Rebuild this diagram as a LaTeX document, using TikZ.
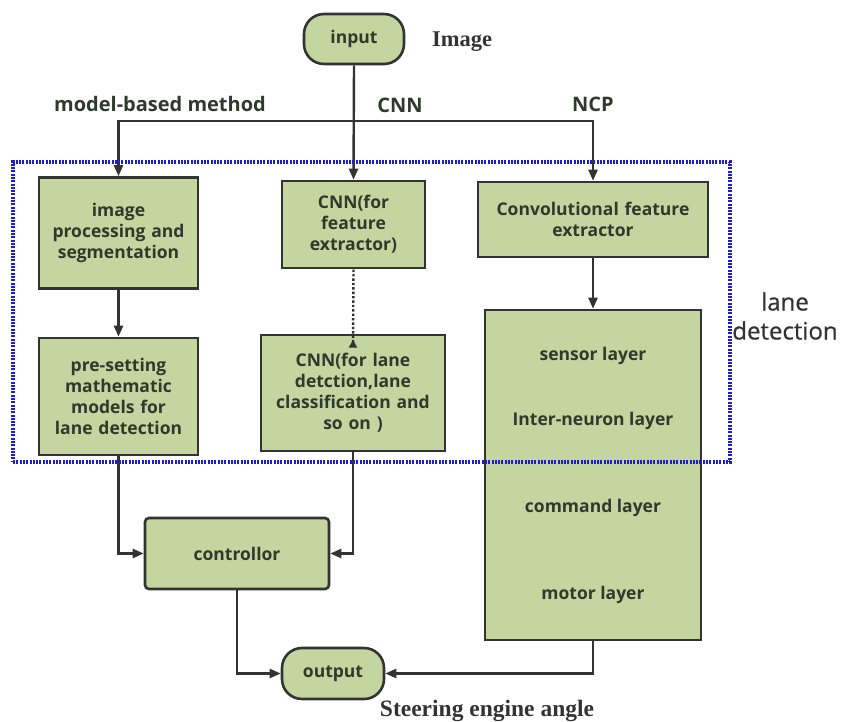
\documentclass[tikz,border=0pt]{standalone}
\usepackage{fontspec}
\setmainfont{Liberation Serif}
\setsansfont{Open Sans}
\newfontfamily\lanefont[FakeBold=0.6]{Open Sans}
\usetikzlibrary{arrows.meta}
\definecolor{boxfill}{HTML}{C4D59F}
\definecolor{edge}{HTML}{333333}
\definecolor{txt}{HTML}{2E3A2C}
\definecolor{dotblue}{HTML}{1C1CD8}
\begin{document}
\begin{tikzpicture}[x=1pt,y=-1pt,
  blk/.style={draw=edge, line width=2.6pt, fill=boxfill, text=txt, align=center,
    font=\sffamily\bfseries\fontsize{17.5}{21}\selectfont, inner sep=2pt},
  pill/.style={blk, rounded corners=20pt},
  lbl/.style={text=txt, font=\sffamily\bfseries\fontsize{20}{24}\selectfont},
  lay/.style={text=txt, font=\sffamily\bfseries\fontsize{17.5}{21}\selectfont},
  con/.style={draw=edge, line width=2.4pt, -{Triangle[length=11pt,width=9pt]}},
  ser/.style={text=edge, font=\rmfamily\bfseries\fontsize{22.5}{26}\selectfont}]
\useasboundingbox (0,0) rectangle (843,722);
% nodes
\node[pill, minimum width=100pt, minimum height=50pt] (input) at (354,39) {input};
\node[ser] (image) at (462,42) {Image};
\node[blk, minimum width=159pt, minimum height=111pt, text width=152pt] (imgp) at (118.5,233) {image\\processing and\\segmentation};
\node[blk, minimum width=143pt, minimum height=87pt, text width=137pt] (cnnf) at (353.5,224.5) {CNN(for\\feature\\extractor)};
\node[blk, minimum width=230pt, minimum height=75pt, text width=224pt] (conv) at (593,219.5) {Convolutional feature\\extractor};
\node[blk, minimum width=159pt, minimum height=117pt, text width=152pt] (pre) at (118.5,396.5) {pre-setting\\mathematic\\models for\\lane detection};
\node[blk, minimum width=184pt, minimum height=116pt, text width=178pt] (cnnl) at (353,393) {CNN(for lane\\detction,lane\\classification and\\so on )};
\node[blk, minimum width=216pt, minimum height=330pt] (ncp) at (593,475) {};
\node[lay] (sensor) at (593,356) {sensor layer};
\node[lay] (inter) at (593,421) {Inter-neuron layer};
\node[lay] (command) at (593,508) {command layer};
\node[lay] (motor) at (593,595) {motor layer};
\node[blk, rounded corners=4pt, minimum width=184pt, minimum height=71pt] (ctrl) at (237,553.5) {controllor};
\node[pill, minimum width=102pt, minimum height=51pt] (output) at (333,673.5) {output};
\node[ser, font=\rmfamily\bfseries\fontsize{23.5}{26}\selectfont] (steer) at (487,711) {Steering engine angle};
\node[lbl] (mbm) at (160,104) {model-based method};
\node[lbl] (cnnlbl) at (400,105) {CNN};
\node[lbl] (ncplbl) at (593,104) {NCP};
\node[text=edge, font=\lanefont\fontsize{24}{29}\selectfont, align=center] (lane) at (785,316) {lane\\detection};
% connectors
\coordinate (split) at (353.5,121);
\draw[con] (input.south) -- (cnnf.north);
\draw[con] (split) -| (imgp.north);
\draw[con] (split) -| (conv.north);
\draw[con] (imgp) -- (pre);
\draw[con] (conv) -- (ncp);
\draw[con] (pre.south) |- (ctrl.west);
\draw[con] (cnnl.south) |- (ctrl.east);
\draw[con] (ctrl.south) |- (output.west);
\draw[con] (ncp.south) |- (output.east);
\draw[draw=edge, line width=2.4pt, dotted, {Triangle[length=8pt,width=8pt,reversed]}-] ([yshift=-14pt]cnnl.north) -- (cnnf.south);
% lane detection frame
\node[draw=dotblue, line width=3.2pt, dash pattern=on 2pt off 1.3pt, minimum width=717pt, minimum height=300pt, inner sep=0pt] (frame) at (371.5,312) {};
\end{tikzpicture}
\end{document}
